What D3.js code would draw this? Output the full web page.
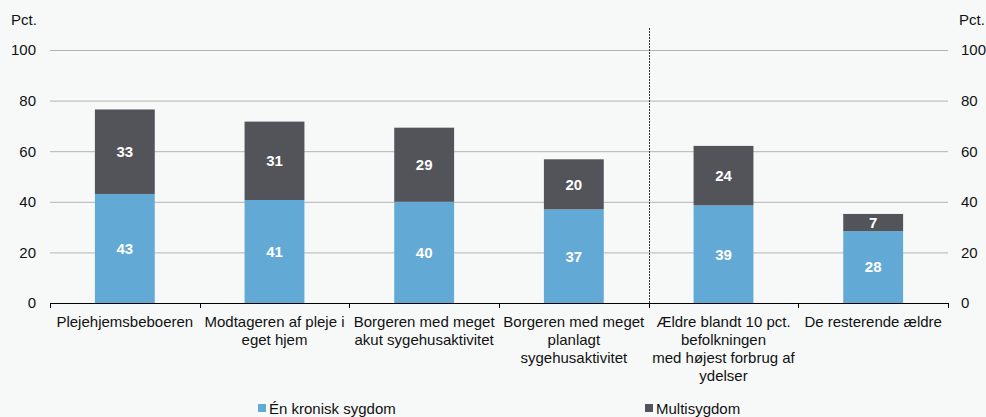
<!DOCTYPE html>
<html>
<head>
<meta charset="utf-8">
<script src="https://cdn.jsdelivr.net/npm/d3@7"></script>
<style>
  body { margin: 0; background: #f7f9f9; }
  svg { font-family: "Liberation Sans", Arial, sans-serif; }
</style>
</head>
<body>
<div id="viz"></div>
<script>
// categories, one array of lines per bar
var categories = [
    ['Plejehjemsbeboeren'],
    ['Modtageren af pleje i', 'eget hjem'],
    ['Borgeren med meget', 'akut sygehusaktivitet'],
    ['Borgeren med meget', 'planlagt', 'sygehusaktivitet'],
    ['Ældre blandt 10 pct.', 'befolkningen', 'med højest forbrug af', 'ydelser'],
    ['De resterende ældre']
];

var enKronisk = [43.1, 40.7, 40.0, 37.0, 38.6, 28.4],
    multi     = [33.4, 31.0, 29.3, 19.8, 23.5, 6.8],
    yTicks    = [0, 20, 40, 60, 80, 100];

var seriesNames  = ['Én kronisk sygdom', 'Multisygdom'],
    seriesColors = ['#63a9d5', '#535459'];

var width = 986, height = 417,
    margin = {top: 50, right: 38, bottom: 114, left: 50},
    innerW = width - margin.left - margin.right,
    innerH = height - margin.top - margin.bottom;

var svg = d3.select('#viz')
    .append('svg')
        .attr('width', width)
        .attr('height', height);

var g = svg.append('g')
    .attr('transform', 'translate(' + margin.left + ',' + margin.top + ')');

var x = d3.scaleBand()
    .domain(d3.range(categories.length))
    .range([0, innerW])
    .paddingInner(0.6)
    .paddingOuter(0.3);

var y = d3.scaleLinear()
    .domain([0, 100])
    .range([innerH, 0]);

// gridlines
g.append('g')
    .selectAll('line')
    .data(yTicks.slice(1))
    .enter().append('line')
        .attr('x1', 0)
        .attr('x2', innerW)
        .attr('y1', function (d) { return y(d) + 0.5; })
        .attr('y2', function (d) { return y(d) + 0.5; })
        .style('stroke', '#b3b3b3')
        .style('stroke-width', 1);

// left and right axes (labels only)
var leftAxis = d3.axisLeft(y).tickValues(yTicks).tickSize(0).tickPadding(14),
    rightAxis = d3.axisRight(y).tickValues(yTicks).tickSize(0).tickPadding(13);

var gl = g.append('g').call(leftAxis);
var gr = g.append('g').attr('transform', 'translate(' + innerW + ',0)').call(rightAxis);
[gl, gr].forEach(function (a) {
    a.select('.domain').remove();
    a.selectAll('text').style('font-size', '15px').style('fill', '#111');
});

svg.append('text').attr('x', 11).attr('y', 25).text('Pct.')
    .style('font-size', '15px').style('fill', '#111');
svg.append('text').attr('x', 959).attr('y', 25).text('Pct.')
    .style('font-size', '15px').style('fill', '#111');

// stacked bars
var stacked = categories.map(function (c, i) {
    return [
        {i: i, s: 0, y0: 0, y1: enKronisk[i], v: enKronisk[i]},
        {i: i, s: 1, y0: enKronisk[i], y1: enKronisk[i] + multi[i], v: multi[i]}
    ];
});
var segs = [].concat.apply([], stacked);

g.append('g').selectAll('rect')
    .data(segs)
    .enter().append('rect')
        .attr('x', function (d) { return x(d.i); })
        .attr('width', x.bandwidth())
        .attr('y', function (d) { return y(d.y1); })
        .attr('height', function (d) { return y(d.y0) - y(d.y1); })
        .style('fill', function (d) { return seriesColors[d.s]; });

g.append('g').selectAll('text')
    .data(segs)
    .enter().append('text')
        .attr('x', function (d) { return x(d.i) + x.bandwidth() / 2; })
        .attr('y', function (d) { return (y(d.y0) + y(d.y1)) / 2; })
        .attr('dy', '0.36em')
        .attr('text-anchor', 'middle')
        .text(function (d) { return Math.round(d.v); })
        .style('fill', '#fff')
        .style('font-weight', 'bold')
        .style('font-size', '15px');

// dotted separator between groups
var step = x.step();
g.append('line')
    .attr('x1', Math.round(step * 4) + 0.5)
    .attr('x2', Math.round(step * 4) + 0.5)
    .attr('y1', y(100) - 22)
    .attr('y2', innerH)
    .style('stroke', '#333')
    .style('stroke-width', 1)
    .style('stroke-dasharray', '2,1');

// x axis
var xAxisG = g.append('g').attr('transform', 'translate(0,' + innerH + ')');
xAxisG.append('line')
    .attr('x1', 0).attr('x2', innerW)
    .attr('y1', 0.5).attr('y2', 0.5)
    .style('stroke', '#000');
xAxisG.selectAll('line.tick')
    .data(d3.range(categories.length + 1))
    .enter().append('line')
        .attr('class', 'tick')
        .attr('x1', function (d) { return Math.round(d * step) + 0.5; })
        .attr('x2', function (d) { return Math.round(d * step) + 0.5; })
        .attr('y1', 0)
        .attr('y2', 5)
        .style('stroke', '#000');

var labels = xAxisG.selectAll('text.cat')
    .data(categories)
    .enter().append('text')
        .attr('class', 'cat')
        .attr('text-anchor', 'middle')
        .style('font-size', '15px')
        .style('fill', '#111');
labels.each(function (lines, i) {
    var t = d3.select(this);
    lines.forEach(function (line, k) {
        t.append('tspan')
            .attr('x', x(i) + x.bandwidth() / 2)
            .attr('y', 24 + k * 18)
            .text(line);
    });
});

// legend
var legendX = [258, 645];
var legend = svg.append('g').selectAll('g')
    .data(seriesNames)
    .enter().append('g')
        .attr('transform', function (d, i) { return 'translate(' + legendX[i] + ',404)'; });
legend.append('rect')
    .attr('width', 8).attr('height', 8)
    .style('fill', function (d, i) { return seriesColors[i]; });
legend.append('text')
    .attr('x', 11).attr('y', 10)
    .text(function (d) { return d; })
    .style('font-size', '15px')
    .style('fill', '#111');
</script>
</body>
</html>
